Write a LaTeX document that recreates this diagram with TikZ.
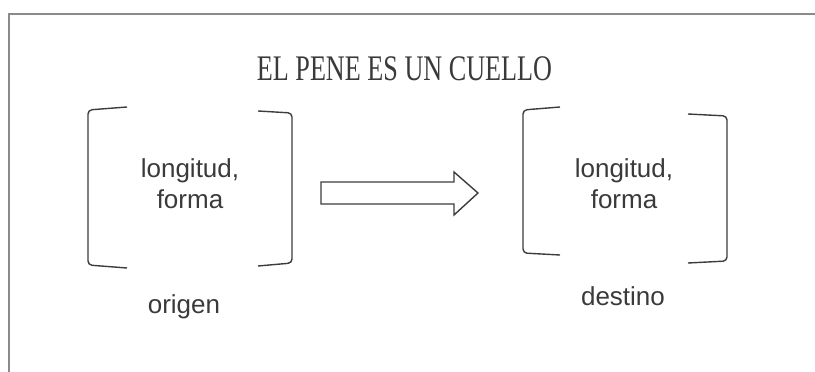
\documentclass[tikz,border=0pt]{standalone}
\usepackage{fontspec}
\setmainfont{Liberation Sans}
\newfontfamily\titlefont{Liberation Serif}
\definecolor{framegray}{HTML}{8A8A8A}
\definecolor{inkgray}{HTML}{3C3C3C}
\definecolor{textgray}{HTML}{3A3A3A}
\begin{document}
\begin{tikzpicture}[x=1pt,y=-1pt,
  bracket/.style={draw=inkgray,line width=1.4pt,rounded corners=4pt},
  label/.style={text=textgray,font=\fontsize{26}{31}\selectfont,inner sep=0pt,align=center},
  bigarrow/.style={draw=inkgray,line width=1.4pt,fill=white,line join=miter}]
\useasboundingbox (0,0) rectangle (815,372);
% frame (top and left edges only)
\draw[framegray,line width=2pt] (9,372) -- (9,14) -- (815,14);
% title
\node[anchor=base,inner sep=0pt,text=textgray,xscale=0.727,font=\titlefont\fontsize{36}{40}\selectfont] (title) at (404.5,80) {EL PENE ES UN CUELLO};
% left box brackets
\draw[bracket] (127,107) -- (88,110) -- (88,265) -- (127,268);
\draw[bracket] (258,111) -- (292,113) -- (292,263) -- (258,266);
\node[label,anchor=base] (srcA) at (190,177) {longitud,};
\node[label,anchor=base] (srcB) at (190,208) {forma};
\node[label,anchor=base] (origen) at (184,313) {origen};
% right box brackets
\draw[bracket] (560,107) -- (523,110) -- (523,253) -- (560,255);
\draw[bracket] (688,114) -- (727,116) -- (727,261) -- (688,263);
\node[label,anchor=base] (dstA) at (624,177) {longitud,};
\node[label,anchor=base] (dstB) at (624,208) {forma};
\node[label,anchor=base] (destino) at (623,305) {destino};
% block arrow
\draw[bigarrow] (321,182) -- (454,182) -- (454,172) -- (478,193) -- (454,215) -- (454,204) -- (321,204) -- cycle;
\end{tikzpicture}
\end{document}
